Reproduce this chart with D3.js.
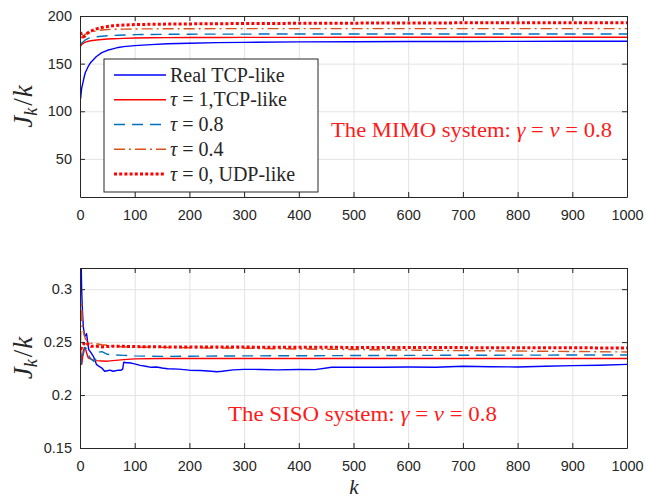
<!DOCTYPE html>
<html><head><meta charset="utf-8">
<script src="https://cdn.jsdelivr.net/npm/d3@7"></script>
<style>
body{margin:0;background:#fff;}
svg{display:block;}
</style></head>
<body>
<svg id="chart" width="646" height="498"></svg>
<script>
// ---------- DATA ----------
const xTicks = [0,100,200,300,400,500,600,700,800,900,1000];
const yTicksTop = [50,100,150,200];
const yTicksBot = [0.15,0.2,0.25,0.3];
const yTickLabelsBot = ["0.15","0.2","0.25","0.3"];

// MIMO (top)
const kTop = [1,3,5,8,10,15,20,30,40,50,60,70,80,100,130,160,200,250,300,400,500,600,700,800,900,1000];
const realTop  = [113,124,129,137,141,147,151.5,157.5,161.5,164,165.5,167,167.8,168.9,170,170.8,171.4,172,172.3,172.8,173,173.2,173.3,173.4,173.5,173.5];
const tau1Top  = [168.5,170,171,172,172.5,173.5,174,174.8,175.3,175.8,176.1,176.3,176.5,176.9,177.1,177.3,177.4,177.5,177.6,177.6,177.7,177.7,177.7,177.7,177.7,177.7];
const tau08Top = [171,171.5,172.5,174,175,176.5,177.3,178.2,178.8,179.3,179.6,179.8,180,180.4,180.6,180.8,180.9,181,181,181.1,181.1,181.1,181.1,181.1,181.1,181.1];
const tau04Top = [177,178,179,180,181,182,183,184.5,185.3,185.8,186,186.1,186.2,186.4,186.5,186.6,186.6,186.7,186.7,186.7,186.7,186.7,186.7,186.7,186.7,186.7];
const tau0Top  = [183,180,178,178.5,180,182.5,184,186.5,188,189,189.8,190.2,190.5,191,191.3,191.5,191.7,191.9,192.1,192.3,192.5,192.7,192.8,192.9,193,193];

// SISO (bottom)
const kRealBot = [1,2,3,4,5,6,8,10,12,14,16,20,25,30,35,40,45,50,55,60,65,70,75,78,80,85,90,100,110,120,130,140,150,160,180,200,220,240,250,260,280,300,330,360,400,430,460,480,500,550,600,650,700,750,800,850,900,950,1000];
const realBot = [0.36,0.33,0.30,0.285,0.274,0.265,0.257,0.256,0.258,0.25,0.243,0.24,0.236,0.229,0.227,0.2255,0.2225,0.223,0.2235,0.2225,0.223,0.2235,0.2235,0.2245,0.231,0.2305,0.2305,0.2295,0.228,0.2272,0.2262,0.2265,0.2255,0.2248,0.2245,0.2235,0.2232,0.2225,0.222,0.2225,0.2238,0.2243,0.2242,0.2238,0.2242,0.224,0.2262,0.2264,0.2262,0.2263,0.2265,0.2262,0.2272,0.2268,0.2265,0.2272,0.2278,0.2282,0.229];
const kTau1Bot = [1,2,3,4,5,6,8,10,12,15,20,25,30,40,50,60,80,100,150,200,300,500,700,1000];
const tau1Bot  = [0.243,0.238,0.229,0.232,0.238,0.242,0.245,0.244,0.24,0.2352,0.234,0.233,0.2325,0.2322,0.232,0.2325,0.2335,0.2342,0.2345,0.2345,0.2345,0.2345,0.2345,0.2345];
const kTau08Bot = [1,2,3,5,8,10,12,15,20,25,30,35,40,50,60,80,100,150,200,300,500,700,1000];
const tau08Bot  = [0.24,0.232,0.23,0.236,0.243,0.245,0.243,0.238,0.234,0.232,0.2345,0.2405,0.241,0.2385,0.238,0.2375,0.237,0.2365,0.2367,0.237,0.2373,0.2376,0.2379];
const kTau04Bot = [1,2,3,4,5,6,8,10,15,20,30,40,50,60,80,100,150,200,300,400,500,700,1000];
const tau04Bot  = [0.25,0.27,0.285,0.275,0.265,0.26,0.256,0.253,0.25,0.249,0.2485,0.2475,0.247,0.246,0.2455,0.2452,0.245,0.2447,0.2442,0.2435,0.243,0.242,0.2407];
const kTau0Bot = [1,3,5,8,10,15,20,30,40,60,80,100,150,200,300,500,700,1000];
const tau0Bot  = [0.243,0.245,0.247,0.249,0.25,0.248,0.246,0.246,0.2455,0.2462,0.246,0.2458,0.2455,0.2455,0.2453,0.245,0.2448,0.2445];

const legendLabels = ["Real TCP-like","τ = 1,TCP-like","τ = 0.8","τ = 0.4","τ = 0, UDP-like"];

// ---------- STYLES ----------
const styles = [
  {color:"#0000ff", width:1.4, dash:null},
  {color:"#ff0000", width:1.4, dash:null},
  {color:"#0072bd", width:1.4, dash:"11,7"},
  {color:"#d95319", width:1.4, dash:"11,4,2,4"},
  {color:"#ff0000", width:3, dash:"3,2.2"}
];
const axisColor = "#262626";
const gridColor = "#e3e3e3";
const tickFont = "'Liberation Sans', Arial, sans-serif";
const serif = "'Liberation Serif', 'Times New Roman', serif";

const svg = d3.select("#chart");
const L = 80, R = 627;

function panel(pTop, pBottom, yDomain, yTicks, yTickFmt, seriesList, clipId){
  const x = d3.scaleLinear().domain([0,1000]).range([L,R]);
  const y = d3.scaleLinear().domain(yDomain).range([pBottom, pTop]);
  const g = svg.append("g");
  const h = pBottom - pTop, w = R - L;
  // grid
  g.append("g").attr("transform",`translate(0,${pBottom})`)
    .call(d3.axisBottom(x).tickValues(xTicks).tickSize(-h).tickFormat(""))
    .call(s=>{s.select(".domain").remove(); s.selectAll("line").attr("stroke",gridColor).attr("stroke-width",1);});
  g.append("g").attr("transform",`translate(${L},0)`)
    .call(d3.axisLeft(y).tickValues(yTicks).tickSize(-w).tickFormat(""))
    .call(s=>{s.select(".domain").remove(); s.selectAll("line").attr("stroke",gridColor).attr("stroke-width",1);});
  // clip
  svg.append("clipPath").attr("id",clipId).append("rect").attr("x",L).attr("y",pTop).attr("width",w).attr("height",h);
  const line = d3.line().x(d=>x(d[0])).y(d=>y(d[1]));
  const dg = g.append("g").attr("clip-path",`url(#${clipId})`);
  seriesList.forEach((s,i)=>{
    const pts = s.k.map((k,j)=>[k,s.v[j]]);
    const st = styles[i];
    dg.append("path").attr("d",line(pts)).attr("fill","none")
      .attr("stroke",st.color).attr("stroke-width",st.width)
      .attr("stroke-dasharray",st.dash).attr("stroke-linejoin","round");
  });
  // axes
  const styleAxis = s=>{
    s.select(".domain").attr("stroke",axisColor).attr("stroke-width",1);
    s.selectAll(".tick line").attr("stroke",axisColor).attr("stroke-width",1);
    s.selectAll("text").attr("fill",axisColor).style("font-family",tickFont).style("font-size","14.5px");
  };
  g.append("g").attr("transform",`translate(0,${pBottom})`)
    .call(d3.axisBottom(x).tickValues(xTicks).tickSizeInner(-5).tickSizeOuter(0).tickPadding(13).tickFormat(d3.format("d")))
    .call(styleAxis);
  g.append("g").attr("transform",`translate(0,${pTop})`)
    .call(d3.axisTop(x).tickValues(xTicks).tickSizeInner(-5).tickSizeOuter(0).tickFormat(""))
    .call(styleAxis);
  g.append("g").attr("transform",`translate(${L},0)`)
    .call(d3.axisLeft(y).tickValues(yTicks).tickSizeInner(-5).tickSizeOuter(0).tickPadding(8).tickFormat(yTickFmt))
    .call(styleAxis);
  g.append("g").attr("transform",`translate(${R},0)`)
    .call(d3.axisRight(y).tickValues(yTicks).tickSizeInner(-5).tickSizeOuter(0).tickFormat(""))
    .call(styleAxis);
  // y label
  const yl = g.append("text").attr("transform",`translate(32,${(pTop+pBottom)/2}) rotate(-90)`)
    .attr("text-anchor","middle").attr("fill",axisColor)
    .style("font-family",serif).style("font-size","27px");
  yl.append("tspan").style("font-style","italic").text("J");
  yl.append("tspan").style("font-style","italic").style("font-size","18px").attr("dy",5).text("k");
  yl.append("tspan").attr("dy",-5).attr("dx",2).text("/");
  yl.append("tspan").style("font-style","italic").attr("dx",1).text("k");
  return {x,y,g};
}

panel(16, 197, [10,200], yTicksTop, d3.format("d"),
  [{k:kTop,v:realTop},{k:kTop,v:tau1Top},{k:kTop,v:tau08Top},{k:kTop,v:tau04Top},{k:kTop,v:tau0Top}], "clipTop");

panel(268, 448, [0.15,0.32], yTicksBot, (d,i)=>yTickLabelsBot[i],
  [{k:kRealBot,v:realBot},{k:kTau1Bot,v:tau1Bot},{k:kTau08Bot,v:tau08Bot},{k:kTau04Bot,v:tau04Bot},{k:kTau0Bot,v:tau0Bot}], "clipBot");

// x label (bottom)
svg.append("text").attr("x",354).attr("y",494).attr("text-anchor","middle")
  .attr("fill",axisColor).style("font-family",serif).style("font-style","italic").style("font-size","21px").text("k");

// annotations
function mathText(x, y, parts){
  const t = svg.append("text").attr("x",x).attr("y",y).attr("fill","#ff1a1a")
    .style("font-family",serif).style("font-size","20px");
  parts.forEach(p=>{
    const s = t.append("tspan").text(p.t);
    if(p.i) s.style("font-style","italic");
  });
  return t;
}
mathText(331,137,[{t:"The MIMO system: "},{t:"γ",i:true},{t:" = "},{t:"ν",i:true},{t:" = 0.8"}])
  .attr("textLength",281).attr("lengthAdjust","spacingAndGlyphs");
mathText(228,421,[{t:"The SISO system: "},{t:"γ",i:true},{t:" = "},{t:"ν",i:true},{t:" = 0.8"}])
  .attr("textLength",269).attr("lengthAdjust","spacingAndGlyphs");

// legend
const lg = svg.append("g");
lg.append("rect").attr("x",104).attr("y",59).attr("width",214).attr("height",133)
  .attr("fill","#fff").attr("stroke",axisColor).attr("stroke-width",1);
const legY = d3.scalePoint().domain(d3.range(legendLabels.length)).range([75,174]);
legendLabels.forEach((lab,i)=>{
  const st = styles[i];
  const yy = legY(i);
  lg.append("line").attr("x1",114).attr("x2",166).attr("y1",yy).attr("y2",yy)
    .attr("stroke",st.color).attr("stroke-width",st.width).attr("stroke-dasharray",st.dash);
  const t = lg.append("text").attr("x",170).attr("y",yy+6.5).attr("fill",axisColor)
    .style("font-family",serif).style("font-size","20px");
  if(lab.startsWith("τ")){
    t.append("tspan").style("font-style","italic").text("τ");
    t.append("tspan").text(lab.slice(1));
  } else t.text(lab);
});
</script>
</body></html>
